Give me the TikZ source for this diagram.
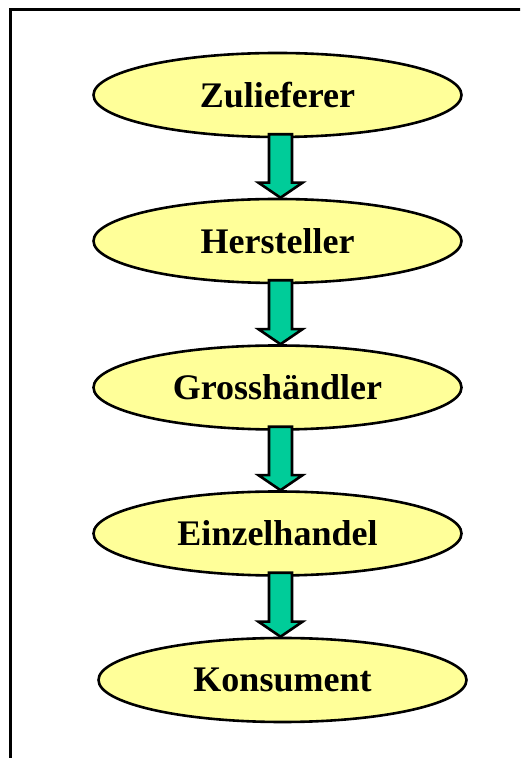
\documentclass[tikz,border=0pt]{standalone}
\usepackage{fontspec}
\setmainfont{Liberation Serif}
\usetikzlibrary{shapes.geometric,calc}
\definecolor{paleyellow}{HTML}{FFFF99}
\definecolor{flowgreen}{HTML}{00CC99}
\tikzset{
  stage/.style={ellipse, draw=black, line width=2.6pt, fill=paleyellow,
    minimum width=368pt, minimum height=84pt, inner sep=0pt,
    font=\fontsize{36}{40}\selectfont\bfseries},
  flow/.style={draw=black, line width=2.6pt, fill=flowgreen, line join=miter},
}
\newcommand\flowarrow[2]{%
  \path ($(#1.south)+(3,0)$) coordinate (#1-s);
  \draw[flow] ($(#1-s)+(-11.5,4)$) -- ($(#1-s |- #2.north)+(-11.5,15)$) -- ++(-10.5,0)
    -- (#1-s |- #2.north) -- ++(22,15) -- ++(-10.5,0) -- ($(#1-s)+(11.5,4)$) -- cycle;}
\begin{document}
\begin{tikzpicture}[x=1pt,y=1pt]
  \useasboundingbox (0,0) rectangle (520,758);
  \clip (0,0) rectangle (520,758);
  \fill[white] (0,0) rectangle (520,758);
  \draw[line width=3pt] (10,-10) -- (10,748) -- (530,748);
  \node[stage] (zul) at (277.5,663) {Zulieferer};
  \node[stage] (her) at (277.5,517) {Hersteller};
  \node[stage] (gro) at (277.5,370.5) {Grossh\"andler};
  \node[stage] (ein) at (277.5,224.5) {Einzelhandel};
  \node[stage] (kon) at (282.5,78) {Konsument};
  \flowarrow{zul}{her}
  \flowarrow{her}{gro}
  \flowarrow{gro}{ein}
  \flowarrow{ein}{kon}
\end{tikzpicture}
\end{document}
